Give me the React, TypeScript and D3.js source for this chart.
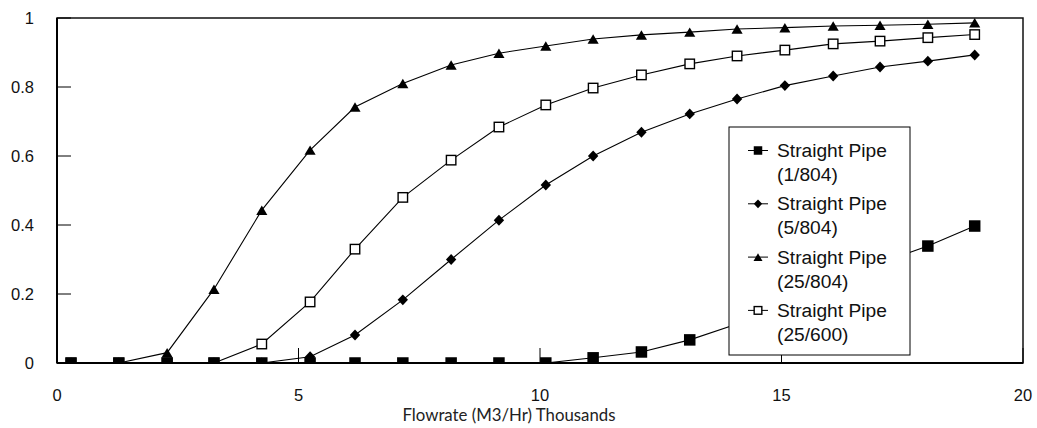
import React from 'react';
import * as d3 from 'd3';

// Flowrate (M3/Hr, thousands) at which each series was sampled
const flowrate = [0.29, 1.28, 2.28, 3.25, 4.24, 5.24, 6.17, 7.16, 8.16, 9.15, 10.12, 11.1, 12.1, 13.1, 14.08, 15.07, 16.07, 17.04, 18.03, 19.0];

const pipe1_804 = [0, 0, 0, 0, 0, 0, 0, 0, 0, 0, 0, 0.015, 0.032, 0.067, 0.113, 0.17, 0.23, 0.29, 0.339, 0.397];
const pipe5_804 = [0, 0, 0, 0, 0, 0.018, 0.081, 0.183, 0.3, 0.414, 0.516, 0.6, 0.669, 0.722, 0.765, 0.804, 0.832, 0.858, 0.875, 0.893];
const pipe25_804 = [0, 0, 0.03, 0.214, 0.443, 0.617, 0.742, 0.81, 0.864, 0.898, 0.919, 0.939, 0.951, 0.959, 0.968, 0.972, 0.977, 0.979, 0.982, 0.986];
const pipe25_600 = [0, 0, 0, 0, 0.055, 0.177, 0.33, 0.48, 0.588, 0.684, 0.748, 0.797, 0.835, 0.867, 0.89, 0.907, 0.925, 0.933, 0.943, 0.952];

const xTicks = [0, 5, 10, 15, 20];
const yTicks = [0, 0.2, 0.4, 0.6, 0.8, 1];

type Marker = 'filledSquare' | 'diamond' | 'triangle' | 'openSquare';

const legendSeries: { name: string; sub: string; marker: Marker; values: number[] }[] = [
  { name: 'Straight Pipe', sub: '(1/804)', marker: 'filledSquare', values: pipe1_804 },
  { name: 'Straight Pipe', sub: '(5/804)', marker: 'diamond', values: pipe5_804 },
  { name: 'Straight Pipe', sub: '(25/804)', marker: 'triangle', values: pipe25_804 },
  { name: 'Straight Pipe', sub: '(25/600)', marker: 'openSquare', values: pipe25_600 },
];

// draw order: filled squares sit on top of the others where they all lie on zero
const drawOrder = [3, 2, 1, 0];

const W = 1037;
const H = 428;
const plot = { left: 57, top: 18, right: 1023, bottom: 363 };
const sans = '"Liberation Sans", Arial, sans-serif';

const markerShape = (m: Marker, x: number, y: number, s: number, key?: string) => {
  if (m === 'filledSquare') {
    return <rect key={key} x={x - s / 2} y={y - s / 2} width={s} height={s} fill="#000" />;
  }
  if (m === 'openSquare') {
    const t = s * 0.9;
    return <rect key={key} x={x - t / 2} y={y - t / 2} width={t} height={t} fill="#fff" stroke="#000" strokeWidth={1.4} />;
  }
  if (m === 'diamond') {
    const r = s * 0.52;
    return <path key={key} d={`M${x},${y - r}L${x + r * 0.95},${y}L${x},${y + r}L${x - r * 0.95},${y}Z`} fill="#000" />;
  }
  const hw = s * 0.53;
  const h = s * 0.9;
  return <path key={key} d={`M${x},${y - h / 2}L${x + hw},${y + h / 2}L${x - hw},${y + h / 2}Z`} fill="#000" />;
};

export default function App() {
  const x = d3.scaleLinear().domain([0, 20]).range([plot.left, plot.right]);
  const y = d3.scaleLinear().domain([0, 1]).range([plot.bottom, plot.top]);

  const line = d3.line<number>()
    .x((_, i) => x(flowrate[i]))
    .y((d) => y(d));

  const legend = { x: 729, y: 127, w: 181, h: 228 };

  return (
    <svg
      width={W}
      height={H}
      style={{ position: 'absolute', left: 0, top: 0, background: '#fff' }}
    >
      <defs>
        <clipPath id="plotClip">
          <rect x={plot.left} y={plot.top} width={plot.right - plot.left} height={plot.bottom - plot.top} />
        </clipPath>
      </defs>

      <rect x={0} y={0} width={W} height={H} fill="#fff" />

      {/* frame */}
      <rect
        x={plot.left}
        y={plot.top}
        width={plot.right - plot.left}
        height={plot.bottom - plot.top}
        fill="none"
        stroke="#111"
        strokeWidth={1.5}
      />

      {/* y ticks point inwards */}
      {yTicks.map((t) => (
        <g key={`y${t}`}>
          <line x1={plot.left} x2={plot.left + 14} y1={y(t)} y2={y(t)} stroke="#000" strokeWidth={1} />
          <text
            x={34}
            y={y(t)}
            dy="0.36em"
            textAnchor="end"
            fontFamily={sans}
            fontSize={16.5}
            fill="#111"
          >
            {d3.format('~g')(t)}
          </text>
        </g>
      ))}

      {/* x ticks point upwards */}
      {xTicks.map((t) => (
        <g key={`x${t}`}>
          <line x1={x(t)} x2={x(t)} y1={plot.bottom} y2={plot.bottom - 15} stroke="#000" strokeWidth={1} />
          <text x={x(t)} y={401} textAnchor="middle" fontFamily={sans} fontSize={16.5} fill="#111">
            {t}
          </text>
        </g>
      ))}

      <g clipPath="url(#plotClip)">
        {drawOrder.map((si) => {
          const s = legendSeries[si];
          const size = s.marker === 'filledSquare' ? 11.5 : 10.5;
          return (
            <g key={s.sub}>
              <path d={line(s.values) || ''} fill="none" stroke="#000" strokeWidth={1.1} />
              {s.values.map((v, i) => markerShape(s.marker, x(flowrate[i]), y(v), size, `${s.sub}-${i}`))}
            </g>
          );
        })}
      </g>

      {/* axes */}
      <line x1={plot.left} x2={plot.left} y1={plot.top} y2={plot.bottom} stroke="#000" strokeWidth={2} />
      <line x1={plot.left} x2={plot.right} y1={plot.bottom} y2={plot.bottom} stroke="#000" strokeWidth={2.2} />

      <text x={509} y={421} textAnchor="middle" fontFamily="Lato, 'Open Sans', sans-serif" fontSize={16.8} fill="#222">
        Flowrate (M3/Hr) Thousands
      </text>

      {/* legend */}
      <rect x={legend.x} y={legend.y} width={legend.w} height={legend.h} fill="#fff" stroke="#000" strokeWidth={1} />
      {legendSeries.map((s, i) => {
        const base = 157 + i * 53.3;
        const my = base - 6.5;
        return (
          <g key={`lg${i}`}>
            <line x1={748} x2={768} y1={my} y2={my} stroke="#000" strokeWidth={1} />
            {markerShape(s.marker, 758, my, 8.5)}
            <text x={777} y={base} fontFamily={sans} fontSize={19.2} fill="#111">
              {s.name}
            </text>
            <text x={777} y={base + 24} fontFamily={sans} fontSize={19.2} fill="#111">
              {s.sub}
            </text>
          </g>
        );
      })}
    </svg>
  );
}
